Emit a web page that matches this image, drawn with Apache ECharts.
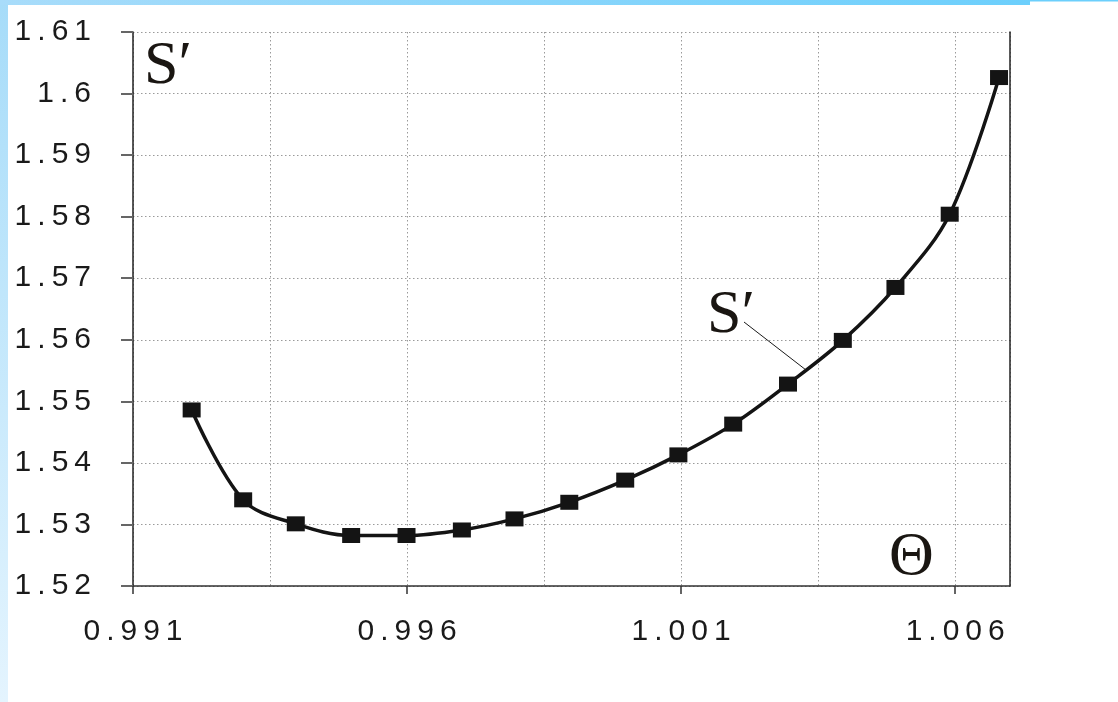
<!DOCTYPE html>
<html>
<head>
<meta charset="utf-8">
<script src="https://cdn.jsdelivr.net/npm/echarts@6/dist/echarts.min.js"></script>
<style>
html,body{margin:0;padding:0;background:#fff;}
#chart{width:1118px;height:702px;}
</style>
</head>
<body>
<div id="chart"></div>
<script>
// Data
const thetaValues = [0.99207, 0.99301, 0.99397, 0.99498, 0.99599, 0.99700, 0.99796, 0.99896, 0.99998, 1.00095, 1.00195, 1.00295, 1.00395, 1.00491, 1.00590, 1.00680];
const sPrimeValues = [1.5486, 1.5340, 1.5301, 1.5282, 1.5282, 1.5291, 1.5309, 1.5336, 1.5372, 1.5413, 1.5463, 1.5528, 1.5599, 1.5685, 1.5804, 1.6026];
const xTickValues = [0.991, 0.996, 1.001, 1.006];
const xTickLabels = ['0.991', '0.996', '1.001', '1.006'];
const yTickValues = [1.52, 1.53, 1.54, 1.55, 1.56, 1.57, 1.58, 1.59, 1.60, 1.61];
const yTickLabels = ['1.52', '1.53', '1.54', '1.55', '1.56', '1.57', '1.58', '1.59', '1.6', '1.61'];

const spaced = s => s.split('').join('\u2009');
function labelFor(values, labels, v) {
  for (let i = 0; i < values.length; i++) {
    if (Math.abs(values[i] - v) < 1e-7) return spaced(labels[i]);
  }
  return '';
}

const chart = echarts.init(document.getElementById('chart'), null, {renderer: 'canvas'});
const dotted = {color: '#9a9a9a', width: 1, type: [1.5, 2.5]};
const labelFont = {fontFamily: '"Liberation Sans", Arial, sans-serif', fontSize: 30, color: '#1a1a1a'};

chart.setOption({
  animation: false,
  backgroundColor: '#ffffff',
  grid: {left: 133, right: 108, top: 32, bottom: 116, containLabel: false},
  xAxis: [{
    type: 'value', min: 0.991, max: 1.007, interval: 0.005, position: 'bottom',
    axisLine: {show: true, lineStyle: {color: '#333', width: 1.5}},
    axisTick: {show: true, length: 8, lineStyle: {color: '#333', width: 1.5}, customValues: xTickValues},
    axisLabel: Object.assign({margin: 31, customValues: xTickValues,
      formatter: v => labelFor(xTickValues, xTickLabels, v)}, labelFont),
    splitLine: {show: false}
  }, {
    type: 'value', min: 0.991, max: 1.007, interval: 0.0025, position: 'bottom',
    axisLine: {show: false}, axisTick: {show: false}, axisLabel: {show: false},
    splitLine: {show: true, lineStyle: dotted}
  }],
  yAxis: [{
    type: 'value', min: 1.52, max: 1.61, interval: 0.01, position: 'left',
    axisLine: {show: true, lineStyle: {color: '#222', width: 1.5}},
    axisTick: {show: true, length: 12, lineStyle: {color: '#666', width: 2}},
    axisLabel: Object.assign({margin: 42,
      formatter: v => labelFor(yTickValues, yTickLabels, v)}, labelFont),
    splitLine: {show: true, lineStyle: dotted}
  }, {
    type: 'value', min: 1.52, max: 1.61, interval: 0.01, position: 'right',
    axisLine: {show: true, lineStyle: {color: '#222', width: 1.5}},
    axisTick: {show: false}, axisLabel: {show: false}, splitLine: {show: false}
  }],
  series: [{
    type: 'line',
    xAxisIndex: 0, yAxisIndex: 0,
    data: thetaValues.map((x, i) => [x, sPrimeValues[i]]),
    smooth: 0.35,
    symbol: 'rect',
    symbolSize: [18, 15],
    showSymbol: true,
    lineStyle: {color: '#141414', width: 3.5},
    itemStyle: {color: '#141414', borderWidth: 0}
  }],
  graphic: [
    {type: 'rect', left: 0, top: 0, shape: {width: 8, height: 702}, z: 100,
      style: {fill: new echarts.graphic.LinearGradient(0, 0, 0, 1, [{offset: 0, color: '#a6dcf9'}, {offset: 1, color: '#e4f4fe'}])}},
    {type: 'rect', left: 0, top: 0, shape: {width: 1030, height: 5}, z: 100,
      style: {fill: new echarts.graphic.LinearGradient(0, 0, 1, 0, [{offset: 0, color: '#a8dcfa'}, {offset: 1, color: '#6ccffc'}])}},
    {type: 'rect', left: 1030, top: 0, shape: {width: 88, height: 1.5}, z: 100,
      style: {fill: '#6ccffc'}},
    {type: 'text', left: 144, top: 36, z: 50,
      style: {text: 'S\u2032', fontFamily: '"Liberation Serif", "Times New Roman", serif', fontSize: 62, fill: '#1a1612'}},
    {type: 'text', left: 707, top: 285, z: 50,
      style: {text: 'S\u2032', fontFamily: '"Liberation Serif", "Times New Roman", serif', fontSize: 62, fill: '#1a1612'}},
    {type: 'text', left: 889, top: 527, z: 50,
      style: {text: '\u0398', fontFamily: '"Liberation Serif", "Times New Roman", serif', fontSize: 62, fill: '#1a1612'}},
    {type: 'line', z: 50, shape: {x1: 744, y1: 322, x2: 806, y2: 370},
      style: {stroke: '#1a1a1a', lineWidth: 1}}
  ]
});
</script>
</body>
</html>
